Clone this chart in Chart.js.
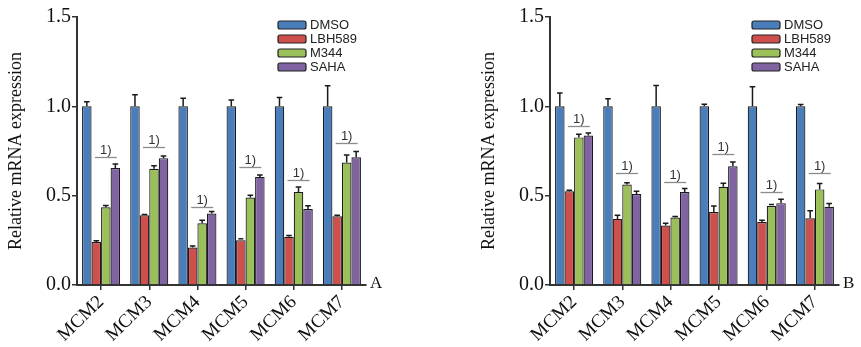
<!DOCTYPE html>
<html>
<head>
<meta charset="utf-8">
<script src="https://cdn.jsdelivr.net/npm/chart.js@4.4.1/dist/chart.umd.min.js"></script>
<style>
  html, body { margin: 0; padding: 0; background: #fff; }
  body { width: 861px; height: 347px; position: relative; overflow: hidden; }
  .box { position: absolute; top: 0; height: 347px; }
  #boxA { left: 0; width: 430px; }
  #boxB { left: 473px; width: 388px; }
</style>
</head>
<body>
<div class="box" id="boxA"><canvas id="chartA"></canvas></div>
<div class="box" id="boxB"><canvas id="chartB"></canvas></div>
<script>
// ---- data ----
const categories = ['MCM2', 'MCM3', 'MCM4', 'MCM5', 'MCM6', 'MCM7'];
const seriesNames = ['DMSO', 'LBH589', 'M344', 'SAHA'];
const seriesColors = ['#4a7ebb', '#cf4f4c', '#9bbf59', '#8064a2'];
const yTicks = [0, 0.5, 1.0, 1.5];

// Panel A
const dmsoA = [1, 1, 1, 1, 1, 1];
const dmsoErrA = [0.025, 0.065, 0.045, 0.035, 0.05, 0.115];
const lbhA = [0.24, 0.39, 0.21, 0.25, 0.27, 0.385];
const lbhErrA = [0.008, 0.005, 0.008, 0.004, 0.007, 0.005];
const m344A = [0.435, 0.65, 0.345, 0.49, 0.52, 0.685];
const m344ErrA = [0.01, 0.018, 0.018, 0.012, 0.028, 0.043];
const sahaA = [0.655, 0.71, 0.40, 0.605, 0.425, 0.715];
const sahaErrA = [0.022, 0.012, 0.012, 0.01, 0.018, 0.032];
const sigLevelA = [0.718, 0.774, 0.438, 0.658, 0.588, 0.793];

// Panel B
const dmsoB = [1, 1, 1, 1, 1, 1];
const dmsoErrB = [0.075, 0.043, 0.117, 0.012, 0.11, 0.01];
const lbhB = [0.525, 0.37, 0.333, 0.408, 0.353, 0.373];
const lbhErrB = [0.006, 0.02, 0.012, 0.034, 0.01, 0.043];
const m344B = [0.826, 0.562, 0.378, 0.55, 0.442, 0.535];
const m344ErrB = [0.018, 0.01, 0.005, 0.02, 0.004, 0.033];
const sahaB = [0.837, 0.509, 0.52, 0.664, 0.458, 0.438];
const sahaErrB = [0.014, 0.016, 0.02, 0.025, 0.022, 0.018];
const sigLevelB = [0.891, 0.628, 0.578, 0.731, 0.522, 0.625];

const sigText = '1)';

// ---- plugins ----
const errorBarPlugin = {
  id: 'errorBars',
  afterDatasetsDraw(chart) {
    const ctx = chart.ctx;
    const y = chart.scales.y;
    ctx.save();
    ctx.strokeStyle = '#1a1a1a';
    ctx.lineWidth = 1.5;
    chart.data.datasets.forEach((ds, di) => {
      const meta = chart.getDatasetMeta(di);
      meta.data.forEach((bar, i) => {
        const err = ds.errors[i];
        const top = y.getPixelForValue(ds.data[i] + err);
        const base = bar.y;
        if (base - top < 0.8) {
          ctx.beginPath();
          ctx.moveTo(bar.x - 2.5, top - 0.8);
          ctx.lineTo(bar.x + 2.5, top - 0.8);
          ctx.stroke();
          return;
        }
        ctx.beginPath();
        ctx.moveTo(bar.x, base);
        ctx.lineTo(bar.x, top);
        ctx.moveTo(bar.x - 2.8, top);
        ctx.lineTo(bar.x + 2.8, top);
        ctx.stroke();
      });
    });
    ctx.restore();
  }
};

const extrasPlugin = {
  id: 'extras',
  afterDraw(chart, args, opts) {
    const ctx = chart.ctx;
    const y = chart.scales.y;
    const area = chart.chartArea;
    ctx.save();
    // significance brackets over M344
    const meta = chart.getDatasetMeta(2);
    meta.data.forEach((bar, i) => {
      const ly = Math.round(y.getPixelForValue(opts.sig[i])) + 0.5;
      ctx.strokeStyle = '#8c8c8c';
      ctx.lineWidth = 1.3;
      ctx.beginPath();
      ctx.moveTo(bar.x - 11, ly);
      ctx.lineTo(bar.x + 11, ly);
      ctx.stroke();
      ctx.fillStyle = '#333';
      ctx.font = '13px "Liberation Sans", Arial, sans-serif';
      ctx.textAlign = 'center';
      ctx.textBaseline = 'alphabetic';
      ctx.fillText(sigText, bar.x, ly - 3.5);
    });
    // legend
    const lx = opts.legendX, ly0 = 25;
    ctx.font = '13px "Liberation Sans", Arial, sans-serif';
    ctx.textAlign = 'left';
    ctx.textBaseline = 'middle';
    chart.data.datasets.forEach((ds, di) => {
      const cy = ly0 + di * 14;
      ctx.fillStyle = ds.backgroundColor;
      ctx.strokeStyle = '#222';
      ctx.lineWidth = 1.2;
      ctx.beginPath();
      if (ctx.roundRect) ctx.roundRect(lx, cy - 4, 28, 8, 2); else ctx.rect(lx, cy - 4, 28, 8);
      ctx.fill();
      ctx.stroke();
      ctx.fillStyle = '#222';
      ctx.fillText(ds.label, lx + 32, cy + 0.5);
    });
    // panel letter
    ctx.font = '17px "Liberation Serif", "Times New Roman", serif';
    ctx.fillStyle = '#111';
    ctx.textAlign = 'left';
    ctx.textBaseline = 'alphabetic';
    ctx.fillText(opts.letter, area.right + 4, area.bottom + 3);
    ctx.restore();
  }
};

function makeChart(id, values, errors, sig, letter, legendX) {
  const datasets = seriesNames.map((name, k) => ({
    label: name,
    data: values[k],
    errors: errors[k],
    backgroundColor: seriesColors[k],
    borderColor: '#1a1a1a',
    borderWidth: 1.2,
    borderSkipped: 'bottom',
    categoryPercentage: 0.79,
    barPercentage: 1.0
  }));
  return new Chart(document.getElementById(id), {
    type: 'bar',
    data: { labels: categories, datasets },
    plugins: [errorBarPlugin, extrasPlugin],
    options: {
      responsive: true,
      maintainAspectRatio: false,
      animation: false,
      layout: { padding: { top: 17, right: id === 'chartA' ? 64 : 22, left: 0, bottom: 0 } },
      plugins: {
        legend: { display: false },
        tooltip: { enabled: false },
        extras: { sig, letter, legendX }
      },
      scales: {
        x: {
          offset: true,
          border: { display: true, color: '#333', width: 2 },
          grid: { display: true, drawOnChartArea: false, drawTicks: true, tickLength: 5, color: '#333', lineWidth: 1.5, offset: false },
          ticks: {
            color: '#111',
            font: { family: '"Liberation Serif", "Times New Roman", serif', size: 19 },
            maxRotation: 44, minRotation: 44, autoSkip: false, padding: 1
          },
          afterFit(scale) { scale.height = 62; }
        },
        y: {
          min: 0, max: 1.5,
          border: { display: true, color: '#333', width: 2 },
          grid: { display: true, drawOnChartArea: false, drawTicks: true, tickLength: 5, color: '#333', lineWidth: 1.5 },
          afterBuildTicks(scale) { scale.ticks = yTicks.map(v => ({ value: v })); },
          ticks: {
            color: '#111',
            font: { family: '"Liberation Serif", "Times New Roman", serif', size: 20 },
            padding: 1,
            callback: v => v.toFixed(1)
          },
          title: {
            display: true,
            text: 'Relative mRNA expression',
            color: '#111',
            font: { family: '"Liberation Serif", "Times New Roman", serif', size: 18 },
            padding: { top: 5, bottom: 4 }
          },
          afterFit(scale) { scale.width = 77; }
        }
      }
    }
  });
}

makeChart('chartA', [dmsoA, lbhA, m344A, sahaA], [dmsoErrA, lbhErrA, m344ErrA, sahaErrA], sigLevelA, 'A', 278);
makeChart('chartB', [dmsoB, lbhB, m344B, sahaB], [dmsoErrB, lbhErrB, m344ErrB, sahaErrB], sigLevelB, 'B', 279);
</script>
</body>
</html>
